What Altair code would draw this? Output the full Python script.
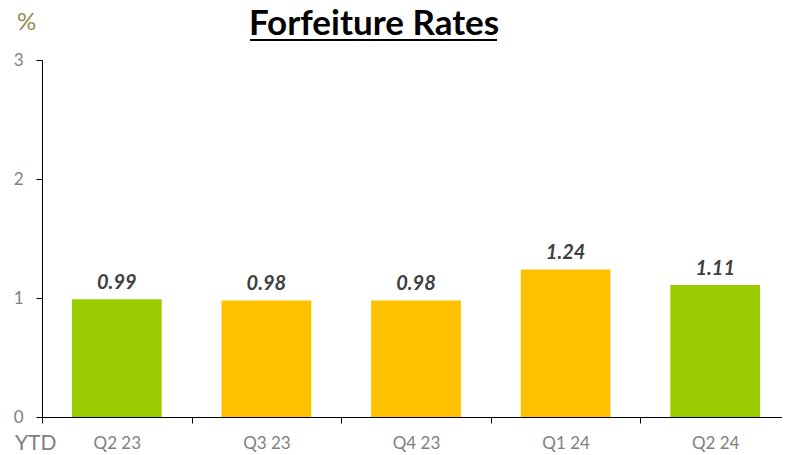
import altair as alt
import pandas as pd

quarters = ["Q2 23", "Q3 23", "Q4 23", "Q1 24", "Q2 24"]
rates = [0.99, 0.98, 0.98, 1.24, 1.11]
colors = ["#99CC00", "#FFC000", "#FFC000", "#FFC000", "#99CC00"]

df = pd.DataFrame({"q": quarters, "v": rates, "c": colors,
                   "lab": [f"{r:.2f}" for r in rates]})
one = pd.DataFrame({"a": [0]})

FONT = "Lato"

x = alt.X("q:N", sort=quarters, title=None,
          scale=alt.Scale(paddingInner=0, paddingOuter=0),
          axis=alt.Axis(labelAngle=0, labelColor="#808080", labelFontSize=17,
                        labelFont=FONT, labelPadding=12, tickBand="extent",
                        tickColor="black", domainColor="black", tickSize=6,
                        ticks=True, grid=False))
y = alt.Y("v:Q", title=None,
          scale=alt.Scale(domain=[0, 3], nice=False),
          axis=alt.Axis(values=[0, 1, 2, 3], format="d", labelColor="#808080",
                        labelFontSize=17, labelFont=FONT, labelPadding=13,
                        tickColor="black", domainColor="black", tickSize=6, grid=False))

bars = alt.Chart(df).mark_bar(width=alt.RelativeBandSize(0.6)).encode(
    x=x, y=y, color=alt.Color("c:N", scale=None))
labels = alt.Chart(df).mark_text(fontWeight="bold", fontStyle="italic", fontSize=20,
                                 font=FONT, color="#404040", dy=-16).encode(
    x=alt.X("q:N", sort=quarters), y="v:Q", text="lab:N")

title = alt.Chart(one).mark_text(text="Forfeiture Rates", fontSize=35, fontWeight="bold",
                                 font=FONT, color="black", align="center",
                                 baseline="alphabetic").encode(
    x=alt.value(332), y=alt.value(-25))
underline = alt.Chart(one).mark_rule(color="black", strokeWidth=2).encode(
    x=alt.value(208), x2=alt.value(455), y=alt.value(-20))
pct = alt.Chart(one).mark_text(text="%", fontSize=24, font=FONT, color="#948A54",
                               align="left", baseline="alphabetic").encode(
    x=alt.value(-25), y=alt.value(-30))
ytd = alt.Chart(one).mark_text(text="YTD", fontSize=21, font=FONT, color="#808080",
                               align="left", baseline="alphabetic").encode(
    x=alt.value(-27), y=alt.value(390))

chart = alt.layer(bars, labels, title, underline, pct, ytd).properties(
    width=748, height=357,
    autosize=alt.AutoSizeParams(type="none"),
    padding={"left": 34, "top": 52, "right": -8, "bottom": 38},
).configure_view(stroke=None)

chart.save("out.html", embed_options={"renderer": "svg", "actions": False})
